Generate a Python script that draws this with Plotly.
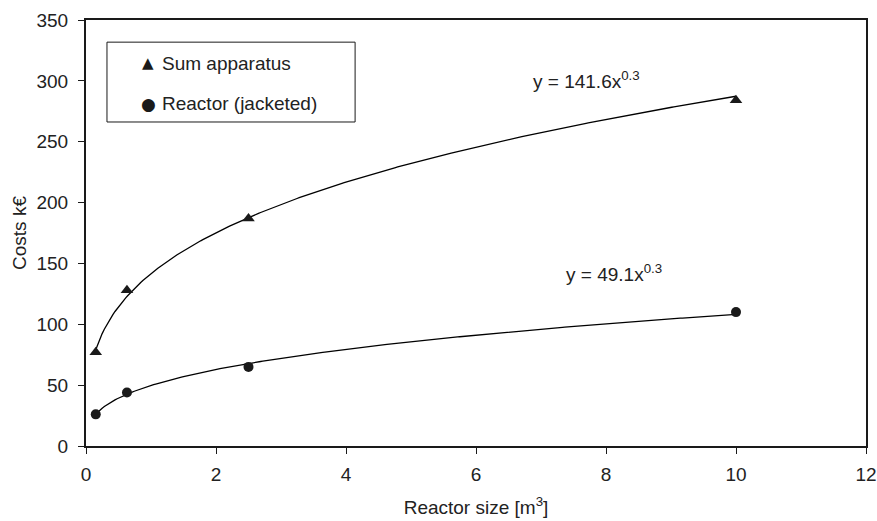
import numpy as np
import plotly.graph_objects as go

# Data
reactor_size = [0.15, 0.63, 2.5, 10.0]
sum_apparatus = [77, 128, 187, 284]
reactor_jacketed = [26, 44, 65, 110]

series_names = ["Sum apparatus", "Reactor (jacketed)"]
trend_labels = ["y = 141.6x<sup>0.3</sup>", "y = 49.1x<sup>0.3</sup>"]

x_ticks = [0, 2, 4, 6, 8, 10, 12]
y_ticks = [0, 50, 100, 150, 200, 250, 300, 350]


def power_fit(x, y):
    b, log_a = np.polyfit(np.log(x), np.log(y), 1)
    return np.exp(log_a), b


x_fit = np.linspace(min(reactor_size), max(reactor_size), 300)

FONT = "Liberation Sans, Arial, Helvetica, sans-serif"
FS = 19
TXT = "#222222"

fig = go.Figure()
for ys in (sum_apparatus, reactor_jacketed):
    a, b = power_fit(reactor_size, ys)
    fig.add_trace(go.Scatter(x=x_fit, y=a * x_fit ** b, mode="lines",
                             line=dict(color="black", width=1.3), showlegend=False, hoverinfo="skip"))

fig.add_trace(go.Scatter(x=reactor_size, y=sum_apparatus, mode="markers", name=series_names[0],
                         showlegend=False,
                         marker=dict(symbol="triangle-up", size=11, color="#1a1a1a")))
fig.add_trace(go.Scatter(x=reactor_size, y=reactor_jacketed, mode="markers", name=series_names[1],
                         showlegend=False,
                         marker=dict(symbol="circle", size=10, color="#1a1a1a")))

# trendline equations
fig.add_annotation(x=6.85, y=301, xref="x", yref="y", showarrow=False,
                   text=trend_labels[0], font=dict(size=FS, color=TXT, family=FONT),
                   xanchor="left", yanchor="middle")
fig.add_annotation(x=7.35, y=142, xref="x", yref="y", showarrow=False,
                   text=trend_labels[1], font=dict(size=FS, color=TXT, family=FONT),
                   xanchor="left", yanchor="middle")

# legend box (drawn manually to match the reference layout)
fig.add_shape(type="rect", xref="paper", yref="paper",
              x0=0.0269, x1=0.345, y0=0.7606, y1=0.948,
              line=dict(color="#1a1a1a", width=1), fillcolor="white", layer="above")
leg_rows = [(0.899, "▲", 15), (0.803, "●", 17)]
for (yy, glyph, gs), name in zip(leg_rows, series_names):
    fig.add_annotation(x=0.0795, y=yy, xref="paper", yref="paper", showarrow=False,
                       text=glyph, font=dict(size=gs, color="#1a1a1a", family="DejaVu Sans"),
                       xanchor="center", yanchor="middle")
    fig.add_annotation(x=0.0955, y=yy, xref="paper", yref="paper", showarrow=False,
                       text=name, font=dict(size=FS, color=TXT, family=FONT),
                       xanchor="left", yanchor="middle")

axis_common = dict(showgrid=False, zeroline=False, showline=True, linecolor="#1a1a1a",
                   linewidth=2, mirror=True, ticks="outside", ticklen=6, tickwidth=1,
                   tickcolor="#1a1a1a", tickfont=dict(size=FS, color=TXT, family=FONT),
                   automargin=False)

fig.update_layout(
    width=877, height=521,
    margin=dict(l=86, r=11, t=20, b=75),
    paper_bgcolor="white", plot_bgcolor="white",
    font=dict(family=FONT, size=FS, color=TXT),
    xaxis=dict(range=[0, 12], tickvals=x_ticks, ticklabelstandoff=4,
               title=dict(text="Reactor size [m<sup>3</sup>]", font=dict(size=FS), standoff=17),
               **axis_common),
    yaxis=dict(range=[0, 350], tickvals=y_ticks, ticklabelstandoff=6,
               title=dict(text="Costs k€", font=dict(size=FS), standoff=5),
               **axis_common),
    showlegend=False,
)

fig.write_html("out.html")
